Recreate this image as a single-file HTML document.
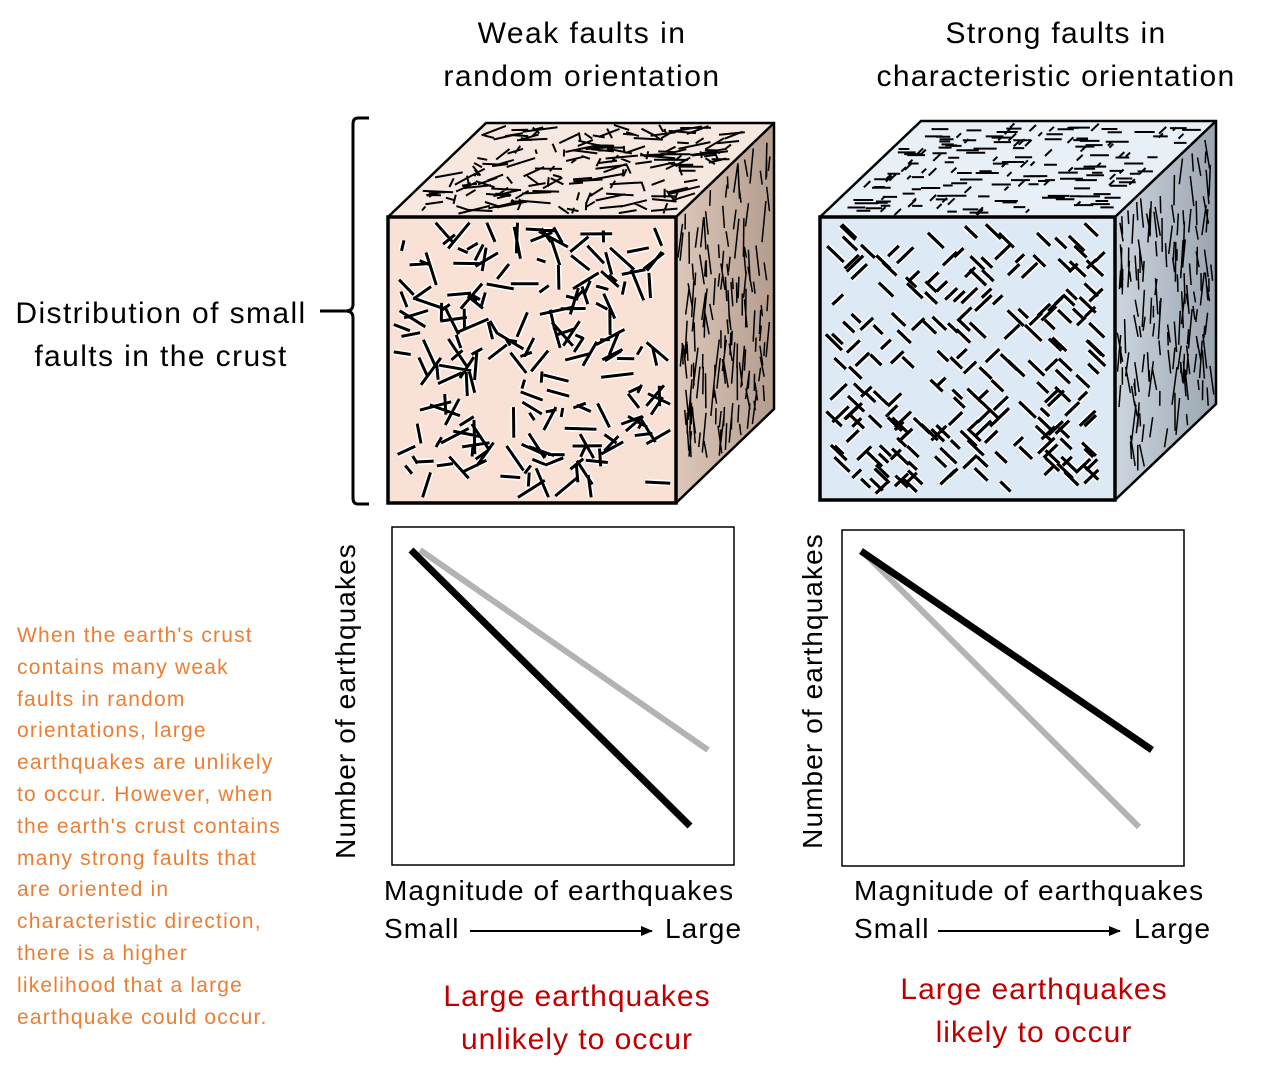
<!DOCTYPE html>
<html><head><meta charset="utf-8"><style>
html,body{margin:0;padding:0;background:#fff;}
body{width:1280px;height:1070px;position:relative;overflow:hidden;font-family:"Liberation Sans",sans-serif;}
.t{position:absolute;white-space:nowrap;color:#000;}
</style></head><body>
<svg id="s" width="1280" height="1070" style="position:absolute;left:0;top:0">
<defs>
<linearGradient id="r1" x1="0" y1="0" x2="1" y2="0"><stop offset="0" stop-color="#ddc8bb"/><stop offset="1" stop-color="#b39c8d"/></linearGradient>
<linearGradient id="r2" x1="0" y1="0" x2="1" y2="0"><stop offset="0" stop-color="#ccd6df"/><stop offset="1" stop-color="#9aa5b0"/></linearGradient>
<marker id="ar" markerWidth="12" markerHeight="10" refX="11" refY="5" orient="auto" markerUnits="userSpaceOnUse"><path d="M0,0 L12,5 L0,10 z" fill="#000"/></marker>
</defs>
<g id="cubes"></g>
<path d="M369,118 H358 Q353,118 353,124 V304 Q353,311 346,311 H320 M346,311 Q353,311 353,318 V498 Q353,504 358,504 H369" fill="none" stroke="#000" stroke-width="3"/>
<rect x="392" y="527" width="342" height="338" fill="none" stroke="#000" stroke-width="1.5"/>
<line x1="420" y1="550" x2="708" y2="750" stroke="#b3b3b3" stroke-width="6"/>
<line x1="411" y1="550" x2="690" y2="826" stroke="#000" stroke-width="7"/>
<rect x="842" y="530" width="342" height="336" fill="none" stroke="#000" stroke-width="1.5"/>
<line x1="866" y1="555" x2="1139" y2="827" stroke="#b3b3b3" stroke-width="6"/>
<line x1="861" y1="551" x2="1152" y2="750" stroke="#000" stroke-width="7"/>
<line x1="470" y1="931" x2="652" y2="931" stroke="#000" stroke-width="2" marker-end="url(#ar)"/>
<line x1="938" y1="931" x2="1120" y2="931" stroke="#000" stroke-width="2" marker-end="url(#ar)"/>
<text x="345" y="701" font-size="28" letter-spacing="1.1" font-family="Liberation Sans" text-anchor="middle" transform="rotate(-90 345 701)" dy="10">Number of earthquakes</text>
<text x="812" y="691" font-size="28" letter-spacing="1.1" font-family="Liberation Sans" text-anchor="middle" transform="rotate(-90 812 691)" dy="10">Number of earthquakes</text>
</svg>
<div class="t" style="left:382px;top:12px;width:400px;text-align:center;font-size:30px;letter-spacing:1.5px;line-height:43px">Weak faults in<br>random orientation</div>
<div class="t" style="left:856px;top:12px;width:400px;text-align:center;font-size:30px;letter-spacing:1.3px;line-height:43px">Strong faults in<br>characteristic orientation</div>
<div class="t" style="left:0px;top:292px;width:322px;text-align:center;font-size:30px;letter-spacing:1.4px;line-height:43px">Distribution of small<br>faults in the crust</div>
<div class="t" style="left:17px;top:620px;font-size:21px;letter-spacing:1.2px;line-height:31.8px;color:#ed7d31">When the earth's crust<br>contains many weak<br>faults in random<br>orientations, large<br>earthquakes are unlikely<br>to occur. However, when<br>the earth's crust contains<br>many strong faults that<br>are oriented in<br>characteristic direction,<br>there is a higher<br>likelihood that a large<br>earthquake could occur.</div>
<div class="t" style="left:384px;top:875px;font-size:28px;letter-spacing:1.1px">Magnitude of earthquakes</div>
<div class="t" style="left:384px;top:913px;font-size:28px;letter-spacing:1.1px">Small</div>
<div class="t" style="left:665px;top:913px;font-size:28px;letter-spacing:1.1px">Large</div>
<div class="t" style="left:854px;top:875px;font-size:28px;letter-spacing:1.1px">Magnitude of earthquakes</div>
<div class="t" style="left:854px;top:913px;font-size:28px;letter-spacing:1.1px">Small</div>
<div class="t" style="left:1134px;top:913px;font-size:28px;letter-spacing:1.1px">Large</div>
<div class="t" style="left:377px;top:975px;width:400px;text-align:center;font-size:30px;letter-spacing:1px;line-height:43px;color:#c00000">Large earthquakes<br>unlikely to occur</div>
<div class="t" style="left:834px;top:968px;width:400px;text-align:center;font-size:30px;letter-spacing:1px;line-height:43px;color:#c00000">Large earthquakes<br>likely to occur</div>
<script>
(function(){
var NS="http://www.w3.org/2000/svg",g=document.getElementById("cubes");
var seed=12345;function R(){seed=(seed*1103515245+12345)%2147483648;return seed/2147483648;}
function el(t,a){var e=document.createElementNS(NS,t);for(var k in a)e.setAttribute(k,a[k]);g.appendChild(e);return e;}
function cube(fx,fy,fw,fh,dx,dy,cf,ct,cr,mode){
 var A=[fx,fy],B=[fx+fw,fy],C=[fx+fw,fy+fh],D=[fx,fy+fh];
 function P(a){return a.map(function(p){return p.join(",")}).join(" ");}
 el("polygon",{points:P([A,[A[0]+dx,A[1]-dy],[B[0]+dx,B[1]-dy],B]),fill:ct});
 el("polygon",{points:P([B,[B[0]+dx,B[1]-dy],[C[0]+dx,C[1]-dy],C]),fill:cr});
 el("rect",{x:fx,y:fy,width:fw,height:fh,fill:cf});
 function seg(map,n,lmin,lmax,ang,w,wo){
  var d1="";
  for(var i=0;i<n;i++){var u=0.04+R()*0.92,v=0.04+R()*0.92,l=lmin+R()*(lmax-lmin),a=ang();
   var du=Math.cos(a)*l/2,dv=Math.sin(a)*l/2;
   var p=map(Math.min(.98,Math.max(.02,u-du)),Math.min(.98,Math.max(.02,v-dv))),q=map(Math.min(.98,Math.max(.02,u+du)),Math.min(.98,Math.max(.02,v+dv)));
   d1+="M"+p[0].toFixed(1)+","+p[1].toFixed(1)+"L"+q[0].toFixed(1)+","+q[1].toFixed(1);}
  if(wo)el("path",{d:d1,stroke:"#fff","stroke-width":w+3,fill:"none"});
  el("path",{d:d1,stroke:"#000","stroke-width":w,fill:"none"});
 }
 var front=function(u,v){return [fx+u*fw,fy+v*fh];};
 var top=function(u,v){return [fx+u*fw+dx*(1-v),fy-dy*(1-v)];};
 var right=function(u,v){return [fx+fw+dx*u,fy-dy*u+v*fh];};
 if(mode==1){
  seg(front,200,0.03,0.12,function(){return R()*Math.PI},3,true);
  seg(top,200,0.04,0.12,function(){return R()*Math.PI},2,false);
 }else{
  seg(front,230,0.04,0.08,function(){return R()<0.55?Math.PI/4:-Math.PI/4},3.2,true);
  seg(top,190,0.03,0.08,function(){return R()<0.7?0:Math.PI/2},2,false);
 }
 seg(right,150,0.04,0.14,function(){return Math.PI/2+(R()-.5)*0.9},1.5,false);
 el("polygon",{points:P([A,[A[0]+dx,A[1]-dy],[B[0]+dx,B[1]-dy],[C[0]+dx,C[1]-dy],C,D]),fill:"none",stroke:"#000","stroke-width":2.5});
 el("polyline",{points:P([A,B,[B[0]+dx,B[1]-dy]]),fill:"none",stroke:"#000","stroke-width":2.5});
 el("rect",{x:fx,y:fy,width:fw,height:fh,fill:"none",stroke:"#000","stroke-width":3.5});
}
cube(388,217,288,286,98,94,"#f9e2d5","#f7e8df","url(#r1)",1);
cube(820,217,295,283,101,96,"#dde9f4","#e7eff7","url(#r2)",2);
})();
</script>
</body></html>
